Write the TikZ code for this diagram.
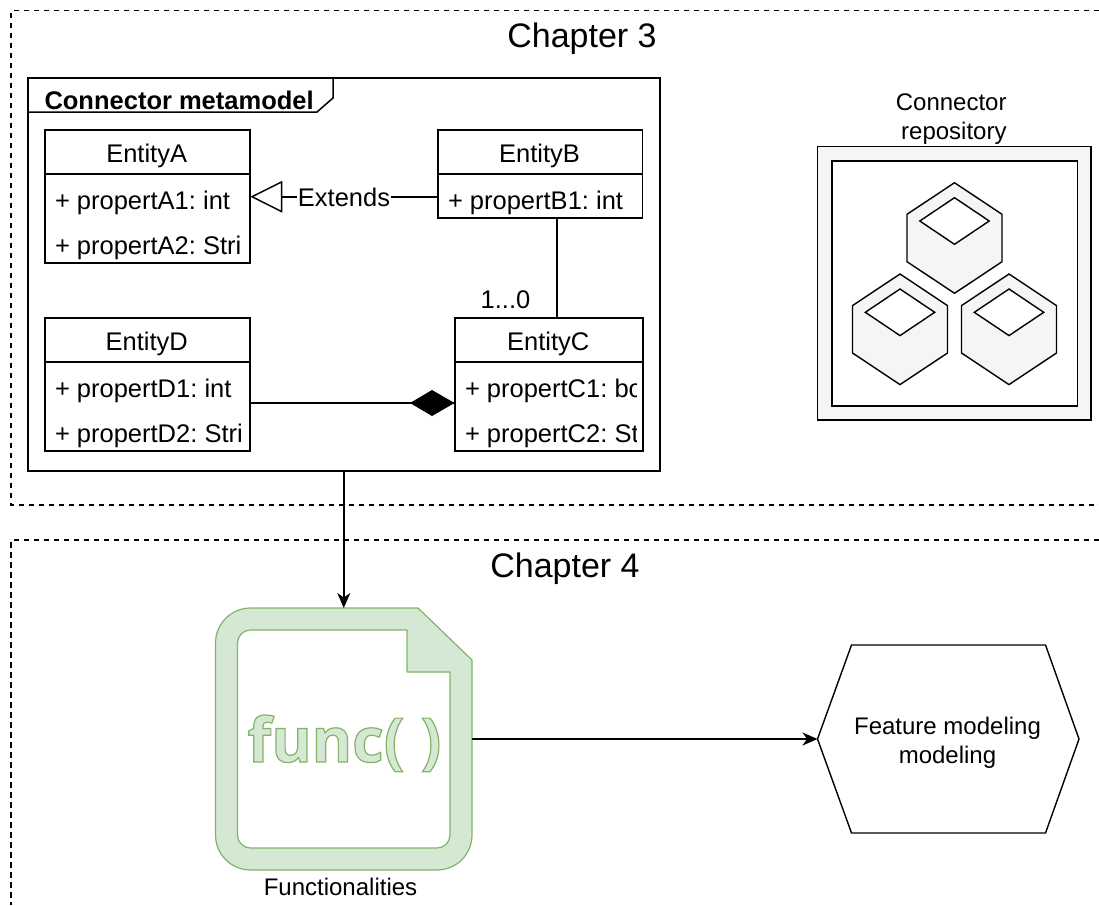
\documentclass[tikz,border=0pt]{standalone}
\usepackage{fontspec}
\setmainfont{Liberation Sans}
\newfontfamily\funcfont{Open Sans}[BoldFont={Open Sans Bold}]
\usetikzlibrary{arrows.meta,calc}
\definecolor{pale}{HTML}{F5F5F5}
\definecolor{gfill}{HTML}{D5E8D4}
\definecolor{gline}{HTML}{82B366}
\frenchspacing
\tikzset{
  x=1pt,y=-1pt,
  every node/.style={inner sep=0pt,outer sep=0pt},
  frameline/.style={line width=1.1pt,dash pattern=on 5.5pt off 4.5pt},
  boxline/.style={line width=1.5pt},
  wire/.style={line width=1.5pt},
  flow/.style={line width=1.5pt,-{Stealth[length=15pt,width=13pt,inset=4.5pt]}},
  enttitle/.style={font=\fontsize{25.5}{30}\selectfont,anchor=base},
  attr/.style={font=\fontsize{25.5}{30}\selectfont,anchor=base west},
  captext/.style={font=\fontsize{24}{29}\selectfont,align=center},
  chaptext/.style={font=\fontsize{34}{40}\selectfont},
}
\newcommand{\umlbox}[7]{% name x0 y0 x1 y1 title divider
  \node[draw,boxline,minimum width={(#4-#2)*1pt},minimum height={(#5-#3)*1pt},anchor=north west] (#1) at (#2,#3) {};
  \draw[boxline] (#2,#7) -- (#4,#7);
  \node[enttitle] (#1t) at ({(#2+#4)/2-0.8},#3+32) {#6};
}
\newcommand{\cube}[2]{% cx top
  \filldraw[fill=pale,draw=black,line width=1.4pt,line join=miter] (#1,#2) -- ++(47.5,31.6) -- ++(0,47.4) -- ++(-47.5,31.6) -- ++(-47.5,-31.6) -- ++(0,-47.4) -- cycle;
  \filldraw[fill=white,draw=black,line width=1.4pt] (#1,#2+15) -- ++(34.7,23.3) -- ++(-34.7,23.3) -- ++(-34.7,-23.3) -- cycle;
}
\begin{document}
\begin{tikzpicture}
\useasboundingbox (0,0) rectangle (1099,905);
% chapter frames
\draw[frameline] (1099,10.5) -- (11,10.5) -- (11,505) -- (1099,505);
\draw[frameline] (1099,540) -- (11,540) -- (11,905);
\node[chaptext] (ch3) at (582,39) {Chapter 3};
\node[chaptext] (ch4) at (565,569) {Chapter 4};
% metamodel frame
\node[draw,boxline,fill=white,minimum width=632pt,minimum height=393pt,anchor=north west] (meta) at (28,78) {};
\draw[boxline] (28,112) -- (317,112) -- (333,98) -- (333,78);
\node[anchor=base west,font=\bfseries\fontsize{25.5}{30}\selectfont] (metat) at (44.5,109) {Connector metamodel};
% entities
\umlbox{ea}{45}{130}{250}{263}{EntityA}{174}
\umlbox{eb}{438}{130}{642.5}{218}{EntityB}{174}
\umlbox{ed}{45}{318}{250}{451}{EntityD}{362}
\umlbox{ec}{455}{318}{643}{451}{EntityC}{362}
\node[attr] (a1) at (55,209) {+ propertA1: int};
\node[attr] (a2) at (55,254) {+ propertA2: Stri};
\node[attr] (b1) at (448,209) {+ propertB1: int};
\node[attr] (d1) at (55,397) {+ propertD1: int};
\node[attr] (d2) at (55,442) {+ propertD2: Stri};
\begin{scope}
  \clip (460,365) rectangle (636,450);
  \node[attr] (c1) at (465,397) {+ propertC1: boolean};
  \node[attr] (c2) at (465,442) {+ propertC2: String};
\end{scope}
% connectors
\node[font=\fontsize{25.5}{30}\selectfont,fill=white,inner xsep=1pt,inner ysep=0pt] (ext) at (344,197) {Extends};
\draw[wire] (ext.east) -- (ext.east -| eb.west);
\draw[wire] (ext.west) -- ++(-16,0);
\draw[wire,fill=white,line join=miter] (281.5,182) -- (252,196.7) -- (281.5,211.5) -- cycle;
\coordinate (bcx) at (557,300);
\draw[wire] (bcx |- eb.south) -- (bcx |- ec.north);
\node[font=\fontsize{25.5}{30}\selectfont] (card) at (505.5,300) {1...0};
\coordinate (dcy) at (300,403);
\draw[wire] (dcy -| ed.east) -- (dcy -| ec.west);
\fill (410,403) -- (432,390) -- (454.5,403) -- (432,416) -- cycle;
% repository
\node[captext,align=right] (rlabel) at (951.2,119.5) {Connector\\repository};
\filldraw[fill=pale,draw=black,line width=1.5pt] (817.5,146.5) rectangle (1091,420);
\filldraw[fill=white,draw=black,line width=1.5pt] (832,161) rectangle (1077.5,406);
\cube{954.5}{182.7}
\cube{900}{274}
\cube{1009}{274}
% functionalities document
\filldraw[fill=gfill,draw=gline,line width=1.2pt,even odd rule,line join=round]
  (250.5,608) -- (418,608) -- (472,660) -- (472,835)
  .. controls (472,854.3) and (456.3,870) .. (437,870) -- (250.5,870)
  .. controls (231.2,870) and (215.5,854.3) .. (215.5,835) -- (215.5,643)
  .. controls (215.5,623.7) and (231.2,608) .. (250.5,608) -- cycle
  (250.5,630) -- (407,630) -- (407,672) -- (450,672) -- (450,835)
  .. controls (450,842.2) and (444.2,848) .. (437,848) -- (250.5,848)
  .. controls (243.3,848) and (237.5,842.2) .. (237.5,835) -- (237.5,643)
  .. controls (237.5,635.8) and (243.3,630) .. (250.5,630) -- cycle;
\node[minimum width=256.5pt,minimum height=262pt,anchor=north west] (doc) at (215.5,608) {};
\node[anchor=base,font=\funcfont\bfseries\fontsize{61.5}{70}\selectfont] (functext) at (344.5,762)
  {\special{pdf:code q 2 Tr 1.2 w 0.51 0.702 0.4 RG 0.835 0.91 0.831 rg}func( )\special{pdf:code Q 0 Tr}};
\node[captext,anchor=base] (funclabel) at (340.5,895) {Functionalities};
% feature hexagon
\draw[line width=1.4pt,line join=miter] (817.5,739) -- (851.5,645) -- (1045.5,645) -- (1079,739) -- (1045.5,833) -- (851.5,833) -- cycle;
\node[captext,minimum width=261.5pt,minimum height=188pt] (hex) at (947.5,743) {Feature modeling\\modeling};
\coordinate (hextip) at (817.5,739);
% flows
\draw[flow] (doc.north |- meta.south) -- (doc.north);
\draw[flow] (doc.east) -- (hextip);
\end{tikzpicture}
\end{document}
